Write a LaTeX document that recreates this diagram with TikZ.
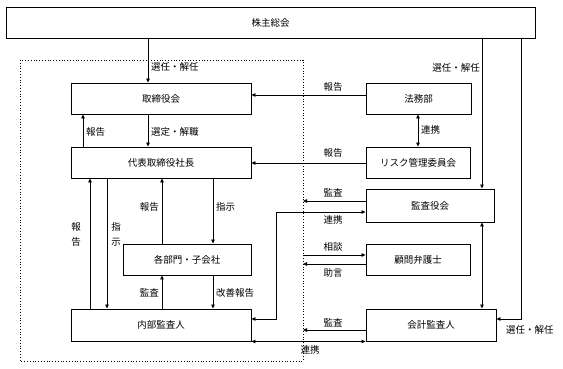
\documentclass[tikz,border=0pt]{standalone}
\usepackage{fontspec}
\newfontfamily\jp{Noto Sans CJK JP}
\usetikzlibrary{arrows.meta}
\begin{document}
\begin{tikzpicture}[x=1pt,y=-1pt, font=\jp\fontsize{9.5}{11}\selectfont,
  box/.style={draw, line width=0.9pt, inner sep=0pt},
  arr/.style={-{Triangle[length=4pt,width=3.5pt]}, line width=0.8pt},
  darr/.style={{Triangle[length=4pt,width=3.5pt]}-{Triangle[length=4pt,width=3.5pt]}, line width=0.8pt},
  lbl/.style={inner sep=0pt}]
\useasboundingbox (0,0) rectangle (563,368);
% group frame
\draw[dotted, line width=0.8pt] (20,60) rectangle (303,361);
% boxes
\node[box, minimum width=529pt, minimum height=31pt] (kabu) at (270.5,22.5) {株主総会};
\node[box, minimum width=180pt, minimum height=31pt] (tori) at (161,98.5) {取締役会};
\node[box, minimum width=180pt, minimum height=31pt] (daihyo) at (161,162.5) {代表取締役社長};
\node[box, minimum width=128pt, minimum height=31pt] (kakubu) at (187,259.5) {各部門・子会社};
\node[box, minimum width=180pt, minimum height=32pt] (naibu) at (161,325) {内部監査人};
\node[box, minimum width=105pt, minimum height=31pt] (homu) at (418.5,98.5) {法務部};
\node[box, minimum width=104pt, minimum height=31pt] (risk) at (418,162.5) {リスク管理委員会};
\node[box, minimum width=128pt, minimum height=33pt] (kansa) at (430,205.5) {監査役会};
\node[box, minimum width=104pt, minimum height=31pt] (komon) at (418,259.5) {顧問弁護士};
\node[box, minimum width=130pt, minimum height=32pt] (kaikei) at (431,325) {会計監査人};
% free ends on the group frame
\coordinate (fA) at (303,201);
\coordinate (fB) at (303,255);
\coordinate (fC) at (303,264);
\coordinate (fD) at (303,330);
\coordinate (bendA) at (276,212);
\coordinate (bendB) at (276,319);
\coordinate (bendC) at (521,319);
% connectors
\draw[arr] (kabu.south -| 148,0) -- (tori.north -| 148,0);
\node[lbl, anchor=west] (l1) at (151,67) {選任・解任};
\draw[arr] (kabu.south -| 482,0) -- (kansa.north -| 482,0);
\node[lbl, anchor=east] (l2) at (480,68) {選任・解任};
\draw[arr] (kabu.south -| bendC) -- (bendC) -- (kaikei.east |- bendC);
\node[lbl, anchor=west] (l3) at (506,330) {選任・解任};
\draw[arr] (homu.west |- 0,95) -- (tori.east |- 0,95);
\node[lbl] (l4) at (333,87) {報告};
\draw[darr] (homu.south -| 418,0) -- (risk.north -| 418,0);
\node[lbl, anchor=west] (l5) at (421,130) {連携};
\draw[arr] (risk.west |- 0,163) -- (daihyo.east |- 0,163);
\node[lbl] (l6) at (333,153) {報告};
\draw[arr] (daihyo.north -| 83,0) -- (tori.south -| 83,0);
\node[lbl, anchor=west] (l7) at (86,132) {報告};
\draw[arr] (tori.south -| 148,0) -- (daihyo.north -| 148,0);
\node[lbl, anchor=west] (l8) at (151,132) {選定・解職};
\draw[arr] (naibu.north -| 90,0) -- (daihyo.south -| 90,0);
\node[lbl] (l9a) at (76,227) {報};
\node[lbl] (l9b) at (76,242) {告};
\draw[arr] (daihyo.south -| 107,0) -- (naibu.north -| 107,0);
\node[lbl] (l10a) at (116,227) {指};
\node[lbl] (l10b) at (116,242) {示};
\draw[arr] (kakubu.north -| 162,0) -- (daihyo.south -| 162,0);
\node[lbl, anchor=east] (l11) at (159,207) {報告};
\draw[arr] (daihyo.south -| 213,0) -- (kakubu.north -| 213,0);
\node[lbl, anchor=west] (l12) at (216,207) {指示};
\draw[arr] (naibu.north -| 162,0) -- (kakubu.south -| 162,0);
\node[lbl, anchor=east] (l13) at (159,293) {監査};
\draw[arr] (kakubu.south -| 213,0) -- (naibu.north -| 213,0);
\node[lbl, anchor=west] (l14) at (216,293) {改善報告};
\draw[arr] (kansa.west |- fA) -- (fA);
\node[lbl] (l15) at (333,193) {監査};
\draw[darr] (kansa.west |- bendA) -- (bendA) -- (bendB) -- (naibu.east |- bendB);
\node[lbl] (l16) at (333,220) {連携};
\draw[arr] (fB) -- (komon.west |- fB);
\node[lbl] (l17) at (333,247) {相談};
\draw[arr] (komon.west |- fC) -- (fC);
\node[lbl] (l18) at (333,273) {助言};
\draw[darr] (kansa.south -| 482,0) -- (kaikei.north -| 482,0);
\draw[arr] (kaikei.west |- fD) -- (fD);
\node[lbl] (l19) at (333,323) {監査};
\draw[darr] (naibu.south east) -- (kaikei.south west);
\node[lbl] (l20) at (310,350) {連携};
\end{tikzpicture}
\end{document}
